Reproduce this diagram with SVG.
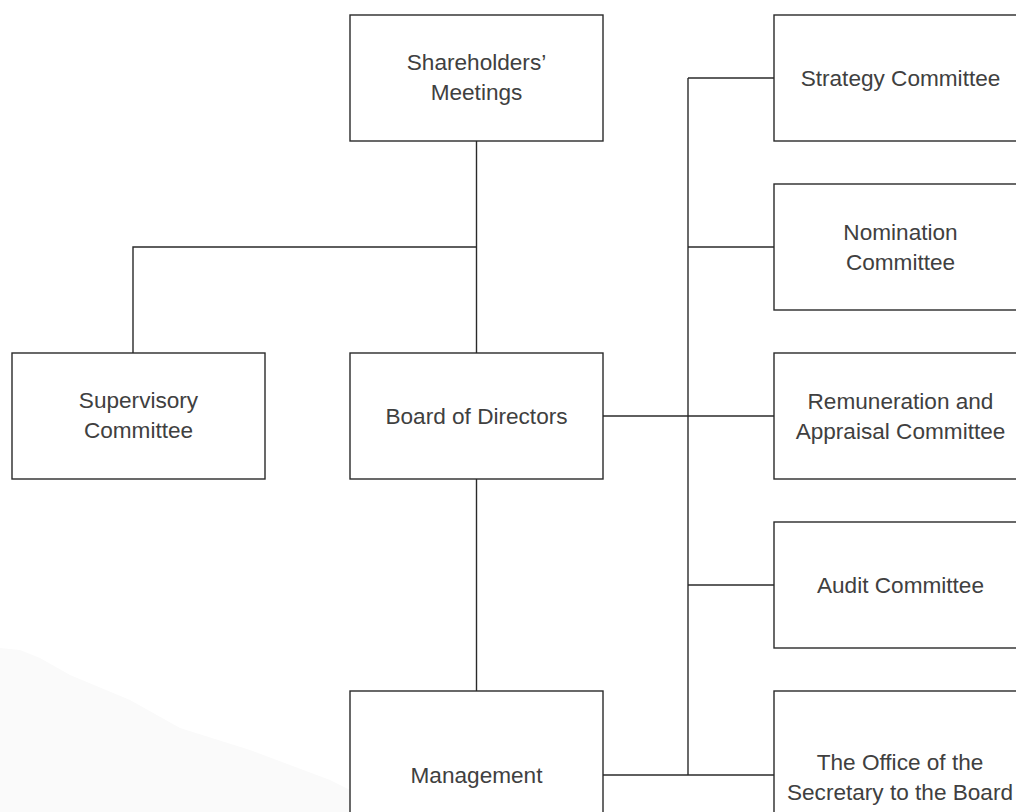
<svg xmlns="http://www.w3.org/2000/svg" width="1016" height="812" viewBox="0 0 1016 812">
  <style>
    .box { fill: #ffffff; stroke: #2a2a2a; stroke-width: 1.4; }
    .link { fill: none; stroke: #2a2a2a; stroke-width: 1.4; }
    .label { font-family: "Liberation Sans", Arial, sans-serif; font-size: 22.6px; fill: #404040; text-anchor: middle; }
  </style>
  <rect width="1016" height="812" fill="#ffffff"/>
  <!-- faint background wash, lower left -->
  <path d="M0,648 L20,650 L40,658 L70,675 L130,700 L180,728 L250,750 L330,780 L350,790 L350,812 L0,812 Z" fill="#fafafa"/>

  <g id="connectors">
    <!-- shareholders down to board, branch to supervisory -->
    <path class="link" d="M476.5,141 V353"/>
    <path class="link" d="M476.5,247 H133 V353"/>
    <!-- board down to management -->
    <path class="link" d="M476.5,479 V691"/>
    <!-- committee bus -->
    <path class="link" d="M688,78 V775"/>
    <path class="link" d="M688,78 H774"/>
    <path class="link" d="M688,247 H774"/>
    <path class="link" d="M603,416 H774"/>
    <path class="link" d="M688,585 H774"/>
    <path class="link" d="M603,775 H774"/>
  </g>

  <g id="shareholders">
    <rect class="box" x="350" y="15" width="253" height="126"/>
    <text class="label" x="476.5" y="70">Shareholders’</text>
    <text class="label" x="476.5" y="100">Meetings</text>
  </g>

  <g id="supervisory">
    <rect class="box" x="12" y="353" width="253" height="126"/>
    <text class="label" x="138.5" y="408">Supervisory</text>
    <text class="label" x="138.5" y="438">Committee</text>
  </g>

  <g id="board">
    <rect class="box" x="350" y="353" width="253" height="126"/>
    <text class="label" x="476.5" y="424">Board of Directors</text>
  </g>

  <g id="management">
    <rect class="box" x="350" y="691" width="253" height="170"/>
    <text class="label" x="476.5" y="783">Management</text>
  </g>

  <g id="strategy">
    <rect class="box" x="774" y="15" width="253" height="126"/>
    <text class="label" x="900.5" y="86">Strategy Committee</text>
  </g>

  <g id="nomination">
    <rect class="box" x="774" y="184" width="253" height="126"/>
    <text class="label" x="900.5" y="240">Nomination</text>
    <text class="label" x="900.5" y="270">Committee</text>
  </g>

  <g id="remuneration">
    <rect class="box" x="774" y="353" width="253" height="126"/>
    <text class="label" x="900.5" y="409">Remuneration and</text>
    <text class="label" x="900.5" y="439">Appraisal Committee</text>
  </g>

  <g id="audit">
    <rect class="box" x="774" y="522" width="253" height="126"/>
    <text class="label" x="900.5" y="593">Audit Committee</text>
  </g>

  <g id="secretary">
    <rect class="box" x="774" y="691" width="253" height="170"/>
    <text class="label" x="900" y="770">The Office of the</text>
    <text class="label" x="900" y="800">Secretary to the Board</text>
  </g>
</svg>
